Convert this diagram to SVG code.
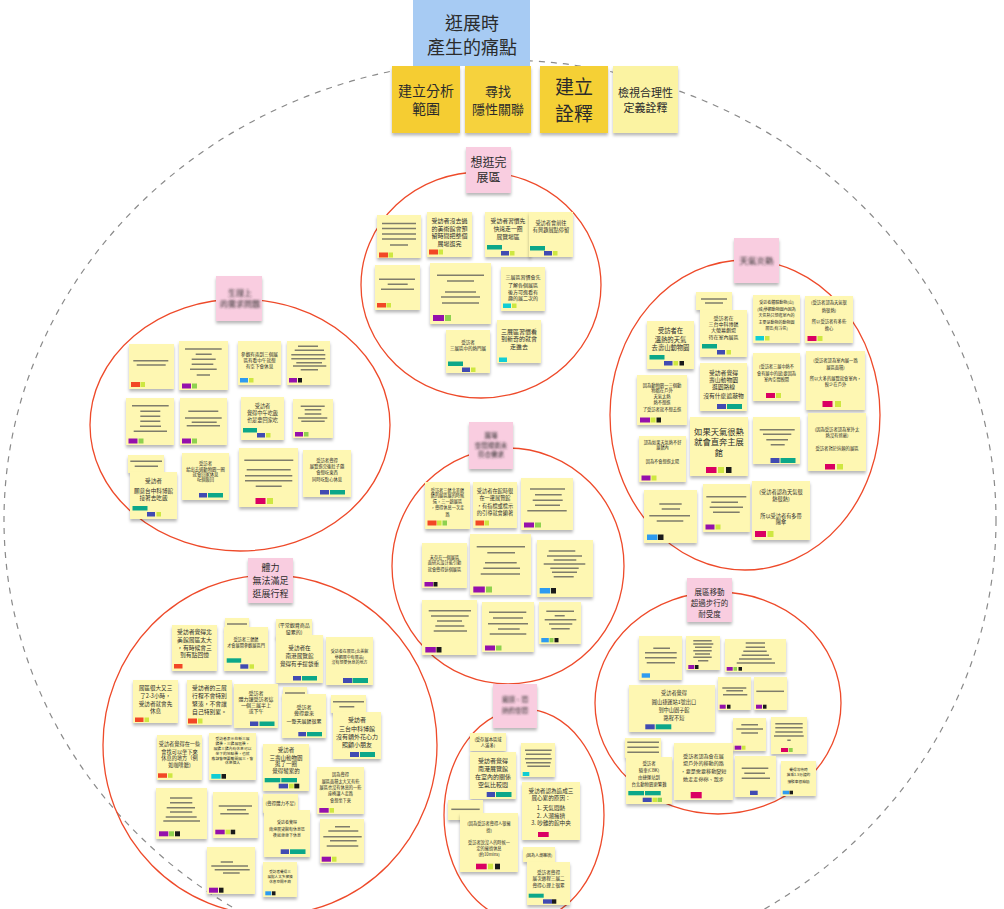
<svg xmlns="http://www.w3.org/2000/svg" width="1004" height="909" viewBox="0 0 1004 909">
<defs>
<filter id="sh" x="-20%" y="-20%" width="140%" height="150%"><feDropShadow dx="0" dy="2.5" stdDeviation="1.6" flood-color="#000" flood-opacity="0.28"/></filter>
<filter id="bl" x="-30%" y="-60%" width="160%" height="220%"><feGaussianBlur stdDeviation="1.3"/></filter>
<style>
.n{fill:#fef7b2;filter:url(#sh)}
.pk{fill:#f9cde0;filter:url(#sh)}
.ln{stroke:#7f7d6b;stroke-width:1.5;fill:none}
.x{font-family:"Noto Sans CJK TC","Noto Sans CJK SC",sans-serif;fill:#2b2b2b;text-anchor:middle}
.bx{filter:url(#bl)}
.cl{fill:none;stroke:#ee4a2a;stroke-width:1.3}
.ds{fill:none;stroke:#8a8a8a;stroke-width:1.2;stroke-dasharray:6 6}
.r{fill:#f24726}.l{fill:#cee741}.g{fill:#8fd14f}.t{fill:#0ca789}.b{fill:#414bb2}.p{fill:#9510ac}.k{fill:#1a1a1a}.c{fill:#12cdd4}.m{fill:#da0063}.s{fill:#2d9bf0}
</style>
</defs>
<rect width="1004" height="909" fill="#ffffff"/>
<g id="connectors">
<ellipse class="ds" cx="500" cy="520" rx="496" ry="460"/>
<ellipse class="cl" cx="481" cy="285" rx="120" ry="113"/>
<ellipse class="cl" cx="240" cy="425" rx="150" ry="126"/>
<ellipse class="cl" cx="745" cy="415" rx="135" ry="155"/>
<ellipse class="cl" cx="508" cy="566" rx="116" ry="118"/>
<ellipse class="cl" cx="270" cy="745" rx="167" ry="170"/>
<ellipse class="cl" cx="524" cy="815" rx="80" ry="106"/>
<ellipse class="cl" cx="718" cy="703" rx="123" ry="111"/>
</g>
<g id="header">
<g id="h-title"><rect x="413" y="0" width="117" height="66" fill="#a7cbf3"/><text class="x" font-size="18" fill="#333"><tspan x="472" y="30">逛展時</tspan><tspan x="472" y="54">產生的痛點</tspan></text></g>
<g id="h1" transform="translate(392,66)"><rect width="68" height="67" fill="#f5cd30" filter="url(#sh)"/><text class="x" font-size="14"><tspan x="34" y="30">建立分析</tspan><tspan x="34" y="48">範圍</tspan></text></g>
<g id="h2" transform="translate(465,66)"><rect width="66" height="67" fill="#f6d23c" filter="url(#sh)"/><text class="x" font-size="13"><tspan x="33" y="30">尋找</tspan><tspan x="33" y="48">隱性關聯</tspan></text></g>
<g id="h3" transform="translate(540,66)"><rect width="68" height="67" fill="#f5d035" filter="url(#sh)"/><text class="x" font-size="19"><tspan x="34" y="28">建立</tspan><tspan x="34" y="55">詮釋</tspan></text></g>
<g id="h4" transform="translate(613,66)"><rect width="65" height="67" fill="#fbf3a2" filter="url(#sh)"/><text class="x" font-size="11"><tspan x="32.5" y="31">檢視合理性</tspan><tspan x="32.5" y="46">定義詮釋</tspan></text></g>
</g>
<g id="cluster-top">
<g id="p-top" transform="translate(466,147)"><rect class="pk" width="45" height="46"/><text class="x" font-size="12"><tspan x="22.5" y="20">想逛完</tspan><tspan x="22.5" y="35">展區</tspan></text></g>
<g id="t1" transform="translate(377,215)"><rect class="n" width="44" height="43"/><path class="ln" d="M5 8.5H39M5 13.5H39M5 19H39M5 24H39M13 30H31"/><rect class="r" x="2" y="37.5" width="9" height="5"/><rect class="l" x="11.5" y="37.5" width="4.5" height="5"/></g>
<g id="t2" transform="translate(427,212)"><rect class="n" width="45" height="45"/><text class="x" font-size="6"><tspan x="22.5" y="11">受訪者沒去過</tspan><tspan x="22.5" y="18.5">的美術館會預</tspan><tspan x="22.5" y="26">留時間把整個</tspan><tspan x="22.5" y="33.5">展場逛完</tspan></text><rect class="r" x="2" y="37.5" width="9" height="5"/><rect class="l" x="11.5" y="37.5" width="4.5" height="5"/></g>
<g id="t3" transform="translate(485,212)"><rect class="n" width="46" height="45"/><text class="x" font-size="5.8"><tspan x="23" y="10.5">受訪者習慣先</tspan><tspan x="23" y="19">快速走一圈</tspan><tspan x="23" y="27">展覽場區</tspan></text><rect class="t" x="2" y="33" width="15" height="4.5"/><rect class="b" x="16" y="39" width="8" height="4.5"/><rect class="l" x="25" y="39" width="4.5" height="4.5"/></g>
<g id="t4" transform="translate(529,212)"><rect class="n" width="44" height="45"/><text class="x" font-size="5.2"><tspan x="22" y="13">受訪者會前往</tspan><tspan x="22" y="19.5">有興趣展點停留</tspan></text><rect class="t" x="1" y="34" width="15" height="4.5"/><rect class="b" x="15" y="39" width="8" height="4.5"/><rect class="l" x="24" y="39" width="4.5" height="4.5"/></g>
<g id="t5" transform="translate(375,265)"><rect class="n" width="45" height="45"/><path class="ln" d="M4 14.3H40M12.7 19.3H32.7M6 24.3H39"/><rect class="r" x="2" y="38" width="9" height="4.5"/><rect class="l" x="11.5" y="38" width="4.5" height="4.5"/></g>
<g id="t6" transform="translate(430,263)"><rect class="n" width="61" height="61"/><path class="ln" d="M7 12.3H54M17 18H44M15 29H46M11 34H50M12 40H49"/><rect class="p" x="3" y="52" width="11" height="6"/><rect class="g" x="15" y="52" width="6" height="6"/></g>
<g id="t7" transform="translate(501,267)"><rect class="n" width="44" height="44"/><text class="x" font-size="5"><tspan x="22" y="12">三展區習慣會先</tspan><tspan x="22" y="19.5">了解各個展區</tspan><tspan x="22" y="27">後方可逛看有</tspan><tspan x="22" y="33">趣的展二次的</tspan></text><rect class="c" x="2" y="36.5" width="8" height="4.5"/><rect class="l" x="11" y="36.5" width="4.5" height="4.5"/></g>
<g id="t8" transform="translate(446,330)"><rect class="n" width="44" height="43"/><text class="x" font-size="4.5"><tspan x="22" y="13.5">受訪者</tspan><tspan x="22" y="20">三展區中的熱門展</tspan></text><rect class="t" x="2" y="31.5" width="15" height="4.5"/><rect class="b" x="16" y="37.5" width="8" height="4.5"/><rect class="l" x="25" y="37.5" width="4.5" height="4.5"/></g>
<g id="t9" transform="translate(497,320)"><rect class="n" width="44" height="43"/><text class="x" font-size="6"><tspan x="22" y="13.5">三展區習慣看</tspan><tspan x="22" y="21">到新奇的就會</tspan><tspan x="22" y="28.5">走進去</tspan></text><rect class="c" x="2" y="37.5" width="8" height="4.5"/></g>
</g>
<g id="cluster-left">
<g id="p-left" transform="translate(216,276)"><rect class="pk" width="46" height="45"/><text class="x bx" font-size="8" fill="#555"><tspan x="24" y="19.5">生理上</tspan><tspan x="24" y="30.5">的需求問題</tspan></text></g>
<g id="l1" transform="translate(129,344)"><rect class="n" width="45" height="45"/><path class="ln" d="M4.3 16.7H39.3M7.7 21H36.7"/><rect class="r" x="2" y="38" width="9" height="5"/><rect class="l" x="11.5" y="38" width="4.5" height="5"/></g>
<g id="l2" transform="translate(179,341)"><rect class="n" width="49" height="49"/><path class="ln" d="M6 8H42.7M16.7 13.3H32.7M12.7 18.3H36.7M12.7 23.3H34.3M11 28.3H37.7M17.7 34H31"/><rect class="p" x="3" y="42.5" width="9" height="5"/><rect class="g" x="13" y="42.5" width="5" height="5"/></g>
<g id="l3" transform="translate(238,341)"><rect class="n" width="43" height="44"/><text class="x" font-size="4.6"><tspan x="21.5" y="14.5">參觀有兩到三個展</tspan><tspan x="21.5" y="21">區有看中午就想</tspan><tspan x="21.5" y="27">有空下會休息</tspan></text><rect class="s" x="2" y="37" width="8" height="4.5"/><rect class="l" x="11" y="37" width="4.5" height="4.5"/></g>
<g id="l4" transform="translate(287,341)"><rect class="n" width="43" height="44"/><path class="ln" d="M11 5.3H31M7.7 9.3H37M4.3 13.7H38.3M4.3 17.7H38.3M9.3 21.7H35M6 25H39.3M13.7 28.7H31"/><rect class="p" x="2" y="37" width="8" height="4.5"/><rect class="k" x="11" y="37" width="4" height="4.5"/></g>
<g id="l5" transform="translate(126,398)"><rect class="n" width="48" height="47"/><path class="ln" d="M6 7.7H42.7M14.3 13.3H34.3M14.3 18.3H34.3M14.3 23.3H34.3M14 28.3H35M7.7 33.3H41"/><rect class="p" x="2.5" y="40.5" width="9" height="5"/><rect class="g" x="12.5" y="40.5" width="5" height="5"/></g>
<g id="l6" transform="translate(180,398)"><rect class="n" width="47" height="47"/><path class="ln" d="M8.3 13.3H38.3M5 20H41.7M11.7 24.3H36.7M6.7 27.7H40"/><rect class="p" x="2" y="40.5" width="9" height="5"/><rect class="g" x="12" y="40.5" width="5" height="5"/></g>
<g id="l7" transform="translate(241,397)"><rect class="n" width="43" height="43"/><text class="x" font-size="5.2"><tspan x="21.5" y="11">受訪者</tspan><tspan x="21.5" y="18">覺得中午吃飯</tspan><tspan x="21.5" y="25">也是要回家吃</tspan></text><rect class="t" x="2" y="31" width="14" height="4.5"/><rect class="b" x="16" y="36" width="8" height="4.5"/><rect class="l" x="25" y="36" width="4.5" height="4.5"/></g>
<g id="l8" transform="translate(293,399)"><rect class="n" width="40" height="39"/><path class="ln" d="M7.7 7.3H31.7M11.7 10.7H28.3M11.7 15H28.3M5 19H34.3M8.3 22.3H31.7"/><rect class="p" x="2" y="33" width="8" height="4.5"/><rect class="g" x="11" y="33" width="4.5" height="4.5"/></g>
<g id="l9" transform="translate(128,455)"><rect class="n" width="36" height="18"/><path class="ln" d="M2.3 6.3H34M6.7 11.3H30"/></g>
<g id="l10" transform="translate(130,472)"><rect class="n" width="47" height="47"/><text class="x" font-size="5.6"><tspan x="23.5" y="10.5">受訪者</tspan><tspan x="23.5" y="20.5">願意台中科博館</tspan><tspan x="23.5" y="27.5">接著去吃飯</tspan></text><rect class="t" x="2.5" y="34" width="15" height="4.5"/><rect class="b" x="17" y="40" width="8" height="4.5"/><rect class="l" x="26.5" y="40" width="4.5" height="4.5"/></g>
<g id="l11" transform="translate(182,453)"><rect class="n" width="47" height="47"/><text class="x" font-size="4.3"><tspan x="23.5" y="11.5">受訪者</tspan><tspan x="23.5" y="18">給出去過動物園一圈</tspan><tspan x="23.5" y="23">就會回家休息</tspan><tspan x="23.5" y="28">吃個飯回</tspan></text><rect class="b" x="17" y="40" width="8" height="4.5"/><rect class="t" x="26" y="40" width="15" height="4.5"/></g>
<g id="l12" transform="translate(239,448)"><rect class="n" width="59" height="59"/><path class="ln" d="M5.3 12.3H54.3M7.7 21.7H51.7M6 27.7H53.3M6 32.7H53.3M16.7 38.3H42.7"/><rect class="m" x="16.5" y="50" width="10" height="6"/><rect class="l" x="28" y="50" width="6" height="6"/></g>
<g id="l13" transform="translate(303,450)"><rect class="n" width="48" height="47"/><text class="x" font-size="4.3"><tspan x="24" y="12">受訪者覺得</tspan><tspan x="24" y="18">展覽逛完後肚子餓</tspan><tspan x="24" y="23.5">會想吃東西</tspan><tspan x="24" y="30.5">同時吃點心休息</tspan></text><rect class="b" x="17" y="40" width="9" height="4.5"/><rect class="t" x="27" y="40" width="15" height="4.5"/></g>
</g>
<g id="cluster-right">
<g id="p-right" transform="translate(734,238)"><rect class="pk" width="45" height="45"/><text class="x bx" font-size="8.5" fill="#555"><tspan x="22.5" y="25.5">天氣炎熱</tspan></text></g>
<g id="r1" transform="translate(696,292)"><rect class="n" width="36" height="18"/><path class="ln" d="M5 7H31M9 11H27"/></g>
<g id="r2" transform="translate(700,310)"><rect class="n" width="47" height="47"/><text class="x" font-size="5"><tspan x="23.5" y="9.5">受訪者在</tspan><tspan x="23.5" y="16">三台中科博館</tspan><tspan x="23.5" y="22">大螢幕劇場</tspan><tspan x="23.5" y="28.5">待在室內展區</tspan></text><rect class="t" x="2" y="34" width="15" height="4.5"/><rect class="b" x="17" y="40" width="8" height="4.5"/><rect class="l" x="26.5" y="40" width="4.5" height="4.5"/></g>
<g id="r3" transform="translate(647,321)"><rect class="n" width="47" height="48"/><text class="x" font-size="6.3"><tspan x="23.5" y="12">受訪者在</tspan><tspan x="23.5" y="21">溫熱的天氣</tspan><tspan x="23.5" y="28.5">去壽山動物園</tspan></text><rect class="t" x="2.5" y="34" width="15" height="4.5"/><rect class="b" x="17" y="40" width="8.5" height="4.5"/><rect class="l" x="26.5" y="40" width="4.5" height="4.5"/><rect class="k" x="32.5" y="40" width="4.5" height="4.5"/></g>
<g id="r4" transform="translate(753,295)"><rect class="n" width="47" height="48"/><text class="x" font-size="4"><tspan x="23.5" y="9">受訪者體驗動物(山)</tspan><tspan x="23.5" y="15.5">(城)參觀動物園內因為</tspan><tspan x="23.5" y="22">天氣熱只想逛室內的</tspan><tspan x="23.5" y="29">主要是動物的動物園</tspan><tspan x="23.5" y="35">展區(有冷氣)</tspan></text><rect class="c" x="2.5" y="41" width="8.5" height="4.5"/><rect class="l" x="12" y="41" width="4.5" height="4.5"/></g>
<g id="r5" transform="translate(805,296)"><rect class="n" width="48" height="47"/><text class="x" font-size="4.3"><tspan x="24" y="8">(受訪者認為天氣很</tspan><tspan x="24" y="15.5">熱很熱)</tspan><tspan x="24" y="27">所以受訪者有多些</tspan><tspan x="24" y="33.5">擔心</tspan></text><rect class="m" x="2.5" y="40" width="9" height="5"/><rect class="l" x="12.5" y="40" width="5" height="5"/></g>
<g id="r6" transform="translate(753,353)"><rect class="n" width="47" height="48"/><text class="x" font-size="4.2"><tspan x="23.5" y="14.5">(受訪者三展中熱不</tspan><tspan x="23.5" y="21.5">會有展中的感)要因為</tspan><tspan x="23.5" y="28">室內空間較開</tspan></text><rect class="m" x="13" y="40" width="9" height="5"/><rect class="l" x="23" y="40" width="5" height="5"/></g>
<g id="r7" transform="translate(700,363)"><rect class="n" width="47" height="48"/><text class="x" font-size="5.8"><tspan x="23.5" y="11.5">受訪者覺得</tspan><tspan x="23.5" y="19">壽山動物園</tspan><tspan x="23.5" y="26">逛園路線</tspan><tspan x="23.5" y="34.5">沒有什麼遮蔽物</tspan></text><rect class="b" x="17" y="41" width="9" height="5"/><rect class="t" x="27" y="41" width="15" height="5"/></g>
<g id="r8" transform="translate(637,375)"><rect class="n" width="50" height="50"/><text class="x" font-size="4.3"><tspan x="25" y="11.5">因為動物園一三個動</tspan><tspan x="25" y="17">物都在戶外</tspan><tspan x="25" y="23">天氣太熱</tspan><tspan x="25" y="29">熱不想逛</tspan><tspan x="25" y="35.5">了受訪者就不想去逛</tspan></text><rect class="p" x="3" y="42.5" width="10" height="5"/><rect class="l" x="13.5" y="42.5" width="5" height="5"/><rect class="k" x="19.5" y="42.5" width="4.5" height="5"/></g>
<g id="r9" transform="translate(806,351)"><rect class="n" width="59" height="59"/><text class="x" font-size="4.3"><tspan x="29.5" y="11">(受訪者認為室內展一路</tspan><tspan x="29.5" y="17.5">展區面積)</tspan><tspan x="29.5" y="29">所以大多的展覽就會室內，</tspan><tspan x="29.5" y="35">較少在戶外</tspan></text><rect class="m" x="16.5" y="50" width="10" height="6"/><rect class="l" x="29" y="50" width="6" height="6"/></g>
<g id="r10" transform="translate(690,417)"><rect class="n" width="58" height="59"/><text class="x" font-size="8.3"><tspan x="29" y="18">如果天氣很熱</tspan><tspan x="29" y="28">就會直奔主展</tspan><tspan x="29" y="38.5">館</tspan></text><rect class="m" x="16" y="50" width="10.5" height="6"/><rect class="l" x="28" y="50" width="6" height="6"/><rect class="k" x="36" y="50" width="5.5" height="6"/></g>
<g id="r11" transform="translate(753,417)"><rect class="n" width="47" height="47"/><path class="ln" d="M6.7 12.7H41.7M10 17.3H38.3M13.3 22.7H35M17.7 27.7H31.7"/><rect class="b" x="17.5" y="41" width="9" height="5"/><rect class="t" x="27.5" y="41" width="15" height="5"/></g>
<g id="r12" transform="translate(808,413)"><rect class="n" width="58" height="58"/><text class="x" font-size="4.3"><tspan x="29" y="18">(因為受訪者認為室外太</tspan><tspan x="29" y="24">熱沒有遮蔽)</tspan><tspan x="29" y="37">受訪者對於這類的展區</tspan></text><rect class="m" x="17" y="51" width="10" height="5.5"/><rect class="l" x="29" y="51" width="6" height="5.5"/></g>
<g id="r13" transform="translate(639,436)"><rect class="n" width="47" height="46"/><text class="x" font-size="4.2"><tspan x="23.5" y="8">認為如果天氣熱不好</tspan><tspan x="23.5" y="13">展館內</tspan><tspan x="23.5" y="27">因為不會想逛太陽</tspan></text><rect class="p" x="2.5" y="39.5" width="9" height="5"/><rect class="l" x="12.5" y="39.5" width="5" height="5"/></g>
<g id="r14" transform="translate(644,490)"><rect class="n" width="53" height="53"/><path class="ln" d="M15.3 14H37.7M17.7 19H36M5.3 25.7H46M12.7 31H39.3"/><rect class="s" x="3" y="44.5" width="10.5" height="5.5"/><rect class="k" x="14" y="44.5" width="5.5" height="5.5"/></g>
<g id="r15" transform="translate(703,484)"><rect class="n" width="47" height="48"/><path class="ln" d="M3.3 12.7H43.3M8.3 18.3H35M6.7 23.3H40M10 28.3H36.7"/><rect class="p" x="2.5" y="40.5" width="9" height="5"/><rect class="l" x="12.5" y="40.5" width="5" height="5"/></g>
<g id="r16" transform="translate(752,481)"><rect class="n" width="58" height="59"/><text class="x" font-size="5.2"><tspan x="29" y="12.5">(受訪者認為天氣很</tspan><tspan x="29" y="20">熱很熱)</tspan><tspan x="29" y="36.5">所以受訪者有多帶</tspan><tspan x="29" y="43">陽傘</tspan></text><rect class="m" x="3" y="50" width="11" height="6"/><rect class="l" x="15.5" y="50" width="6" height="6"/></g>
</g>
<g id="cluster-center">
<g id="p-center" transform="translate(469,422)"><rect class="pk" width="44" height="47"/><text class="x bx" font-size="6.5" fill="#555"><tspan x="22" y="15.5">展場</tspan><tspan x="22" y="25.5">空間規劃未</tspan><tspan x="22" y="34.5">符合需求</tspan></text></g>
<g id="c1" transform="translate(425,482)"><rect class="n" width="45" height="47"/><text class="x" font-size="4.2"><tspan x="22.5" y="10">受訪者三館北美館</tspan><tspan x="22.5" y="15">館的展區展的時候</tspan><tspan x="22.5" y="21">還，三一趟展區</tspan><tspan x="22.5" y="26.5">，覺得休息一次走</tspan><tspan x="22.5" y="34">路</tspan></text><rect class="r" x="2.5" y="38.5" width="9" height="5"/><rect class="l" x="12" y="38.5" width="4.5" height="5"/><rect class="g" x="17.5" y="38.5" width="4.5" height="5"/></g>
<g id="c2" transform="translate(473,482)"><rect class="n" width="44" height="46"/><text class="x" font-size="5.2"><tspan x="22" y="11">受訪者在館時很</tspan><tspan x="22" y="17.5">在一邊展覽館</tspan><tspan x="22" y="26">，有指標或標示</tspan><tspan x="22" y="33">的引導就會顯著</tspan></text><rect class="r" x="2.5" y="38.5" width="8.5" height="5"/><rect class="l" x="11.5" y="38.5" width="4.5" height="5"/></g>
<g id="c3" transform="translate(521,478)"><rect class="n" width="52" height="52"/><path class="ln" d="M9 11H44M14 16.7H40.7M11.7 22.3H41.7M14 27.3H39M6.3 32.7H45.7"/><rect class="p" x="3" y="44.5" width="10" height="5"/><rect class="g" x="14" y="44.5" width="6" height="5"/></g>
<g id="c4" transform="translate(422,543)"><rect class="n" width="45" height="45"/><text class="x" font-size="4.2"><tspan x="22.5" y="15.5">未存在一個展區</tspan><tspan x="22.5" y="21">面研究設計能引動</tspan><tspan x="22.5" y="27.5">就會覺得這個展區</tspan></text><rect class="p" x="2.5" y="39" width="8.5" height="4.5"/><rect class="k" x="11.5" y="39" width="4" height="4.5"/></g>
<g id="c5" transform="translate(470,534)"><rect class="n" width="61" height="61"/><path class="ln" d="M6.7 12.7H55M17.3 18.7H45M15 28.7H46.7M13.3 34.3H50M10.7 40H50"/><rect class="p" x="3.3" y="52.5" width="11.5" height="6"/><rect class="g" x="16" y="52.5" width="6" height="6"/></g>
<g id="c6" transform="translate(537,540)"><rect class="n" width="56" height="57"/><path class="ln" d="M11.7 11H38.3M10 16H45M16.7 20H39.3M6.7 24H48.3M13.3 28.3H41.7M15 32.3H40M16.7 36.7H36.7"/><rect class="s" x="2.7" y="48" width="10.5" height="5.5"/><rect class="k" x="14" y="48" width="5" height="5.5"/></g>
<g id="c7" transform="translate(422,600)"><rect class="n" width="55" height="55"/><path class="ln" d="M6.7 10.7H49M9 16H46.7M15 21H40M13.3 26H42.3M11.7 31H45"/><rect class="p" x="3.3" y="47" width="10.5" height="5.5"/><rect class="k" x="14.5" y="47" width="5" height="5.5"/></g>
<g id="c8" transform="translate(482,602)"><rect class="n" width="52" height="50"/><path class="ln" d="M7 10.3H44.3M11 16H41M6 21.7H46M16 27H37.7M7.7 32H44.3"/><rect class="p" x="3" y="43.5" width="10" height="5"/><rect class="g" x="14" y="43.5" width="5.5" height="5"/></g>
<g id="c9" transform="translate(539,602)"><rect class="n" width="42" height="42"/><path class="ln" d="M7.3 9.3H35M15.7 13.7H25.7M5.7 17.7H37.3M10 22H33.3M12.3 26.7H30.7"/><rect class="s" x="2.3" y="36" width="7.5" height="4.3"/><rect class="g" x="10.5" y="36" width="4" height="4.3"/><rect class="k" x="15.5" y="36" width="4" height="4.3"/></g>
</g>
<g id="cluster-bottom-left">
<g id="p-bl" transform="translate(248,558)"><rect class="pk" width="45" height="45"/><text class="x" font-size="9"><tspan x="22.5" y="13">體力</tspan><tspan x="22.5" y="26">無法滿足</tspan><tspan x="22.5" y="39">逛展行程</tspan></text></g>
<g id="b1" transform="translate(172,625)"><rect class="n" width="45" height="46"/><text class="x" font-size="5.8"><tspan x="22.5" y="9">受訪者覺得北</tspan><tspan x="22.5" y="16.5">美館展區太大</tspan><tspan x="22.5" y="24.5">，有時候會三</tspan><tspan x="22.5" y="32">到有點回憶</tspan></text><rect class="r" x="2" y="39" width="8.5" height="4.5"/></g>
<g id="b2" transform="translate(225,618)"><rect class="n" width="24" height="11"/><path class="ln" d="M2 6H22"/></g>
<g id="b3" transform="translate(224,627)"><rect class="n" width="44" height="44"/><text class="x" font-size="4.2"><tspan x="22" y="14">受訪者三館館</tspan><tspan x="22" y="19.5">才會展開參觀展區門</tspan></text><rect class="t" x="2.7" y="31.3" width="14.5" height="4.4"/><rect class="b" x="16.3" y="37.3" width="8" height="4.4"/><rect class="l" x="25.5" y="37.3" width="4.5" height="4.4"/></g>
<g id="b4" transform="translate(276,619)"><rect class="n" width="36" height="19"/><text class="x" font-size="5"><tspan x="18" y="8">(平常觀賞商品</tspan><tspan x="18" y="14.5">蠻累的)</tspan></text></g>
<g id="b5" transform="translate(276,635)"><rect class="n" width="47" height="48"/><text class="x" font-size="5.6"><tspan x="23.5" y="15">受訪者在</tspan><tspan x="23.5" y="23">南港展覽館</tspan><tspan x="23.5" y="31">覺得有手提袋重</tspan></text><rect class="b" x="17" y="41" width="8" height="4.5"/><rect class="t" x="26" y="41" width="15" height="4.5"/></g>
<g id="b6" transform="translate(326,637)"><rect class="n" width="47" height="48"/><text class="x" font-size="4"><tspan x="23.5" y="15.5">受訪者在展區(北美館</tspan><tspan x="23.5" y="21.5">參觀展中有展品)</tspan><tspan x="23.5" y="27">沒有想要休息的地方</tspan></text><rect class="b" x="17" y="41" width="9" height="5"/><rect class="t" x="26.5" y="41" width="15.5" height="5"/></g>
<g id="b7" transform="translate(133,680)"><rect class="n" width="45" height="43"/><text class="x" font-size="5.6"><tspan x="22.5" y="9.5">展區很大又三</tspan><tspan x="22.5" y="17.5">了2-3小時，</tspan><tspan x="22.5" y="25.5">受訪者就會先</tspan><tspan x="22.5" y="33">休息</tspan></text><rect class="r" x="2" y="37.5" width="8.5" height="4.5"/><rect class="l" x="11.5" y="37.5" width="4.5" height="4.5"/></g>
<g id="b8" transform="translate(187,680)"><rect class="n" width="45" height="45"/><text class="x" font-size="5.8"><tspan x="22.5" y="9.5">受訪者的三展</tspan><tspan x="22.5" y="17.5">行程不會特別</tspan><tspan x="22.5" y="25.5">緊湊，不會讓</tspan><tspan x="22.5" y="33.5">自己特別累。</tspan></text><rect class="r" x="1" y="38.5" width="9" height="5"/><rect class="l" x="11" y="38.5" width="4.5" height="5"/></g>
<g id="b9" transform="translate(234,684)"><rect class="n" width="44" height="44"/><text class="x" font-size="5"><tspan x="22" y="11">受訪者</tspan><tspan x="22" y="17">體力讓受訪者這</tspan><tspan x="22" y="23">一個三展半上</tspan><tspan x="22" y="28.5">或下午</tspan></text><rect class="b" x="16" y="37.5" width="8.3" height="4.5"/><rect class="t" x="25.5" y="37.5" width="15" height="4.5"/></g>
<g id="b10" transform="translate(283,687)"><rect class="n" width="24" height="11"/><path class="ln" d="M2 6H22"/></g>
<g id="b11" transform="translate(282,694)"><rect class="n" width="44" height="44"/><text class="x" font-size="5"><tspan x="22" y="14.5">受訪者</tspan><tspan x="22" y="20.5">覺得要來</tspan><tspan x="22" y="28.5">一整天展館很累</tspan></text><rect class="b" x="16.3" y="38" width="7.7" height="4.3"/><rect class="t" x="25" y="38" width="15" height="4.3"/></g>
<g id="b12" transform="translate(331,695)"><rect class="n" width="35" height="18"/><path class="ln" d="M2 6.7H33M8.3 11.7H23.3"/></g>
<g id="b13" transform="translate(333,712)"><rect class="n" width="48" height="47"/><text class="x" font-size="6"><tspan x="24" y="10">受訪者</tspan><tspan x="24" y="19">三台中科博館</tspan><tspan x="24" y="26.5">沒有額外花心力</tspan><tspan x="24" y="34.5">照顧小朋友</tspan></text><rect class="b" x="17" y="40" width="9" height="5"/><rect class="t" x="27" y="40" width="15" height="5"/></g>
<g id="b14" transform="translate(157,735)"><rect class="n" width="45" height="45"/><text class="x" font-size="5.2"><tspan x="22.5" y="11">受訪者覺得在一些</tspan><tspan x="22.5" y="18.5">會找可以坐下來</tspan><tspan x="22.5" y="25">休息的地方（例</tspan><tspan x="22.5" y="32">如咖啡廳)</tspan></text><rect class="r" x="1" y="38.3" width="9" height="4.5"/><rect class="l" x="11" y="38.3" width="4.5" height="4.5"/></g>
<g id="b15" transform="translate(209,733)"><rect class="n" width="47" height="47"/><text class="x" font-size="3.8"><tspan x="23.5" y="6.5">受訪者表示在新三展</tspan><tspan x="23.5" y="11.5">館後，三館展區後，</tspan><tspan x="23.5" y="16.5">展館三館內有休息可以</tspan><tspan x="23.5" y="21.5">坐下的地點後，也就</tspan><tspan x="23.5" y="26.5">應該會想要離開展三，會</tspan><tspan x="23.5" y="31">休息個人</tspan></text><rect class="c" x="2.3" y="41" width="9.4" height="4.7"/><rect class="k" x="12.5" y="41" width="4.5" height="4.7"/></g>
<g id="b16" transform="translate(263,744)"><rect class="n" width="46" height="47"/><text class="x" font-size="5.5"><tspan x="23" y="7.5">受訪者</tspan><tspan x="23" y="15.5">三壽山動物園</tspan><tspan x="23" y="22">逛了一圈</tspan><tspan x="23" y="29">覺得蠻累的</tspan></text><rect class="t" x="1.7" y="34" width="15.6" height="4.3"/><rect class="t" x="18.3" y="34" width="15.7" height="4.3"/><rect class="b" x="15.7" y="39.7" width="9.3" height="4.7"/><rect class="l" x="26" y="39.7" width="4.7" height="4.7"/><rect class="k" x="31.3" y="39.7" width="5" height="4.7"/></g>
<g id="b17" transform="translate(263,794)"><rect class="n" width="35" height="19"/><text class="x" font-size="4.5"><tspan x="17.5" y="10.5">(覺得體力不足)</tspan></text></g>
<g id="b18" transform="translate(264,810)"><rect class="n" width="46" height="47"/><text class="x" font-size="4"><tspan x="23" y="13.5">受訪者覺得</tspan><tspan x="23" y="20.5">南港展覽館有休息區</tspan><tspan x="23" y="26.5">後就坐坐下休息</tspan></text><rect class="b" x="16.7" y="39.3" width="8.3" height="4.7"/><rect class="t" x="26" y="39.3" width="15.5" height="4.7"/></g>
<g id="b19" transform="translate(317,767)"><rect class="n" width="47" height="47"/><text class="x" font-size="4.2"><tspan x="23.5" y="8.5">因為覺得</tspan><tspan x="23.5" y="15.5">展區面積太大又有些</tspan><tspan x="23.5" y="21.5">展區也沒有休息的一些</tspan><tspan x="23.5" y="28">座椅讓人走路</tspan><tspan x="23.5" y="34.5">會想坐下來</tspan></text><rect class="p" x="2.3" y="41" width="9.4" height="4.7"/><rect class="l" x="12.5" y="41" width="4.5" height="4.7"/></g>
<g id="b20" transform="translate(156,788)"><rect class="n" width="51" height="51"/><path class="ln" d="M14 10H36.3M14 14.7H36.3M10.7 19.7H39M14 24H36.3M9.7 29H40.7M7.3 33H44"/><rect class="p" x="3" y="43.3" width="9.3" height="5"/><rect class="g" x="13" y="43.3" width="5" height="5"/><rect class="k" x="19" y="43.3" width="5" height="5"/></g>
<g id="b21" transform="translate(213,792)"><rect class="n" width="45" height="46"/><path class="ln" d="M5.7 14H39M14 17.7H33M7.3 21.7H35.7"/><rect class="p" x="2.3" y="37.7" width="9.4" height="4.6"/><rect class="l" x="12.5" y="37.7" width="4.5" height="4.6"/><rect class="k" x="17.7" y="37.7" width="4.5" height="4.6"/></g>
<g id="b22" transform="translate(320,819)"><rect class="n" width="44" height="44"/><path class="ln" d="M15 7.7H30M8.3 12H38.3M3.3 17.7H41.7M10 21.7H36.7M6.7 27H38.3"/><rect class="p" x="1.7" y="37.7" width="9.3" height="5"/><rect class="l" x="12" y="37.7" width="4.5" height="5"/></g>
<g id="b23" transform="translate(207,847)"><rect class="n" width="48" height="47"/><path class="ln" d="M13.7 15H26M4.3 19H41M7.7 22.7H42.7M16 26H32.7"/><rect class="p" x="2" y="40.7" width="9" height="5"/><rect class="k" x="12" y="40.7" width="4.5" height="5"/></g>
<g id="b24" transform="translate(263,862)"><rect class="n" width="34" height="35"/><text class="x" font-size="3.6"><tspan x="17" y="10.5">受訪者覺得三</tspan><tspan x="17" y="15.5">展館人太多擁擠</tspan><tspan x="17" y="21">休息空間不夠</tspan></text><rect class="s" x="2.3" y="29.3" width="6" height="4"/><rect class="k" x="9" y="29.3" width="3.5" height="4"/></g>
</g>
<g id="cluster-bottom-center">
<g id="p-bc" transform="translate(493,684)"><rect class="pk" width="44" height="44"/><text class="x bx" font-size="6.5" fill="#555"><tspan x="22" y="18">擁擠、悶</tspan><tspan x="22" y="28.5">熱的空間</tspan></text></g>
<g id="d1" transform="translate(470,733)"><rect class="n" width="36" height="18"/><text class="x" font-size="4.3"><tspan x="18" y="7.5">(受存展本區域</tspan><tspan x="18" y="14">人滿多)</tspan></text></g>
<g id="d2" transform="translate(470,752)"><rect class="n" width="46" height="47"/><text class="x" font-size="6"><tspan x="23" y="10.5">受訪者覺得</tspan><tspan x="23" y="19">南港展覽館</tspan><tspan x="23" y="27">在室內的關係</tspan><tspan x="23" y="35">空氣比較悶</tspan></text><rect class="b" x="16.7" y="40" width="8.3" height="5"/><rect class="t" x="26" y="40" width="15.5" height="5"/></g>
<g id="d3" transform="translate(521,743)"><rect class="n" width="34" height="34"/><path class="ln" d="M4 7.3H30.7M5 11.3H29.7M4 15.7H30.7M5 19.7H29.7M6.3 23.3H29"/><rect class="c" x="1.7" y="29" width="6.6" height="4"/></g>
<g id="d4" transform="translate(522,782)"><rect class="n" width="58" height="58"/><text class="x" font-size="5.6"><tspan x="29" y="10.5">受訪者認為造成三</tspan><tspan x="29" y="18">展心累的原因：</tspan><tspan x="29" y="28">1. 天氣悶熱</tspan><tspan x="29" y="35.5">2. 人潮擁擠</tspan><tspan x="29" y="43">3. 吵雜的館中央</tspan></text><rect class="m" x="16" y="50" width="10.7" height="5"/></g>
<g id="d5" transform="translate(448,800)"><rect class="n" width="35" height="20"/><path class="ln" d="M3.3 9.3H31.7"/></g>
<g id="d6" transform="translate(460,813)"><rect class="n" width="58" height="59"/><text class="x" font-size="4.2"><tspan x="29" y="12">(因為受訪者覺得人很擁</tspan><tspan x="29" y="18.5">擠)</tspan><tspan x="29" y="30.5">受訪者說沒人的時候一</tspan><tspan x="29" y="36.5">定的擁擠休息</tspan><tspan x="29" y="42.5">(約10mins)</tspan></text><rect class="m" x="16" y="50.7" width="10.7" height="5.6"/><rect class="l" x="28" y="50.7" width="5" height="5.6"/><rect class="k" x="35" y="50.7" width="5" height="5.6"/></g>
<g id="d7" transform="translate(523,847)"><rect class="n" width="32" height="15"/><text class="x" font-size="4"><tspan x="16" y="9.5">(因為人潮擁擠)</tspan></text></g>
<g id="d8" transform="translate(527,862)"><rect class="n" width="43" height="43"/><text class="x" font-size="4.6"><tspan x="21.5" y="11.5">受訪者覺得</tspan><tspan x="21.5" y="18">展次過程三展二</tspan><tspan x="21.5" y="24.5">覺得心理上很累</tspan></text><rect class="t" x="1.7" y="31.7" width="15" height="4"/><rect class="b" x="16" y="37.3" width="9" height="4.4"/><rect class="k" x="25" y="37.3" width="4.3" height="4.4"/></g>
</g>
<g id="cluster-bottom-right">
<g id="p-br" transform="translate(687,578)"><rect class="pk" width="45" height="44"/><text class="x" font-size="7.5"><tspan x="22.5" y="17">展區移動</tspan><tspan x="22.5" y="28">超過步行的</tspan><tspan x="22.5" y="39">耐受度</tspan></text></g>
<g id="e1" transform="translate(639,636)"><rect class="n" width="43" height="44"/><path class="ln" d="M14.3 12.3H31M6 16.7H37.7M6 21.7H37.7M7.7 26.7H36"/><rect class="s" x="2.7" y="37.3" width="8.3" height="4.4"/></g>
<g id="e2" transform="translate(686,636)"><rect class="n" width="34" height="34"/><path class="ln" d="M7.3 4.7H25.7M7.3 8H27.3M9 11.3H25.7M7.3 14.7H25.7M9 18H24M7.3 21.3H25.7M12 24.7H22.3"/><rect class="p" x="2.3" y="29" width="6" height="4"/><rect class="k" x="9" y="29" width="3.5" height="4"/></g>
<g id="e3" transform="translate(725,639)"><rect class="n" width="61" height="33"/><path class="ln" d="M20.7 4H40M20.7 8.3H40M18.3 12.3H41.7M16.7 16.3H44M14 20H46.7M11.7 24H50"/><rect class="p" x="1.7" y="28" width="6" height="3.7"/><rect class="g" x="8.5" y="28" width="3.5" height="3.7"/><rect class="k" x="13.5" y="28" width="3.5" height="3.7"/></g>
<g id="e4" transform="translate(629,685)"><rect class="n" width="86" height="47"/><text class="x" font-size="5.2"><tspan x="45" y="10">受訪者覺得</tspan><tspan x="45" y="19">圓山捷運站1號出口</tspan><tspan x="45" y="27">到中山園子館</tspan><tspan x="45" y="34.5">路程不短</tspan></text><rect class="b" x="16.3" y="39.3" width="9.4" height="5"/><rect class="t" x="26.7" y="39.3" width="15.6" height="5"/></g>
<g id="e5" transform="translate(718,677)"><rect class="n" width="33" height="33"/><path class="ln" d="M4.3 11H28.3M8.3 13.7H25M5 17.7H29.3"/><rect class="p" x="1.7" y="27.7" width="6" height="4"/><rect class="k" x="9" y="27.7" width="3.5" height="4"/></g>
<g id="e6" transform="translate(754,677)"><rect class="n" width="33" height="33"/><path class="ln" d="M2.3 14.3H30"/><rect class="p" x="2" y="27.7" width="6" height="4"/><rect class="k" x="9" y="27.7" width="3.5" height="4"/></g>
<g id="e7" transform="translate(733,718)"><rect class="n" width="33" height="33"/><path class="ln" d="M8.3 6.7H25M3.3 11H30M8.3 15H25"/><rect class="p" x="1.7" y="27.7" width="6.6" height="4"/><rect class="l" x="9" y="27.7" width="3.5" height="4"/></g>
<g id="e8" transform="translate(771,717)"><rect class="n" width="36" height="37"/><path class="ln" d="M4.3 6.7H31.7M4.3 10.7H31.7M4.3 15H31.7M3 19H32.7M16.3 23.3H19.7"/><rect class="m" x="10" y="31" width="7" height="4"/><rect class="g" x="17.7" y="31" width="4" height="4"/></g>
<g id="e9" transform="translate(625,738)"><rect class="n" width="36" height="20"/><path class="ln" d="M2.3 4.3H34M2.3 9.3H33.7M2.3 14.3H34"/></g>
<g id="e10" transform="translate(626,757)"><rect class="n" width="46" height="47"/><text class="x" font-size="4.4"><tspan x="23" y="8">受訪者</tspan><tspan x="23" y="15">騎車(CBK)</tspan><tspan x="23" y="22">由捷運站到</tspan><tspan x="23" y="28.5">台北動物園更繁難</tspan></text><rect class="t" x="2.3" y="34" width="15.7" height="4.3"/><rect class="t" x="19" y="34" width="15.7" height="4.3"/><rect class="b" x="16.7" y="40.7" width="9" height="4.3"/><rect class="l" x="26.5" y="40.7" width="4.5" height="4.3"/><rect class="g" x="31.5" y="40.7" width="4.5" height="4.3"/></g>
<g id="e11" transform="translate(674,743)"><rect class="n" width="59" height="57"/><text class="x" font-size="5.1"><tspan x="29.5" y="14.5">受訪者認為會在展</tspan><tspan x="29.5" y="22">場戶外的移動的路</tspan><tspan x="29.5" y="30">，要是需要移動變短</tspan><tspan x="29.5" y="37.5">她走走停停、散步</tspan></text><rect class="m" x="16.7" y="49" width="11" height="6.3"/></g>
<g id="e12" transform="translate(735,756)"><rect class="n" width="41" height="41"/><path class="ln" d="M6.7 12.3H33.3M9.3 17.3H30M6.7 22.3H35"/><rect class="b" x="15" y="34.7" width="7.7" height="4.3"/></g>
<g id="e13" transform="translate(781,761)"><rect class="n" width="35" height="35"/><text class="x" font-size="3.7"><tspan x="17.5" y="10">覺得等待時</tspan><tspan x="17.5" y="15">搭乘1.5分鐘的</tspan><tspan x="17.5" y="21.5">接駁車很麻煩</tspan></text><rect class="s" x="1.7" y="29.7" width="6.3" height="3.6"/><rect class="k" x="8.5" y="29.7" width="3.5" height="3.6"/></g>
</g>
</svg>
